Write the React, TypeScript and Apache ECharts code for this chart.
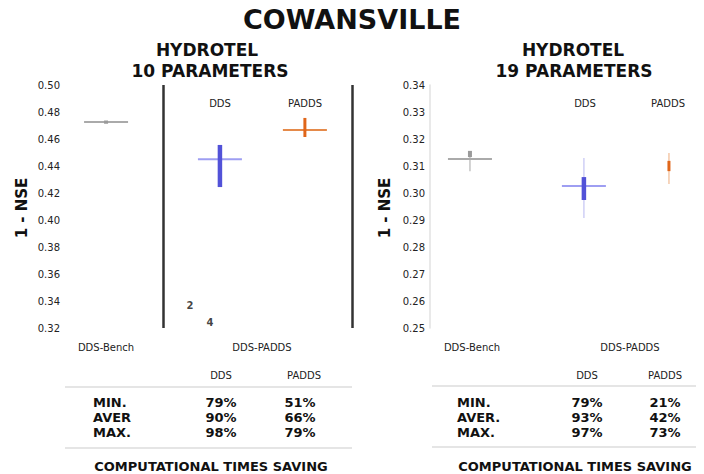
import React, { useEffect, useRef } from "react";
import * as echarts from "echarts";

// ---------- data ----------
const methods = ["DDS-Bench", "DDS", "PADDS"];
const categoryLabels = ["DDS-Bench", "DDS-PADDS"];

// Left panel: HYDROTEL 10 parameters (1 - NSE)
const p10Center = [0.4726, 0.445, 0.4667];
const p10BoxLow = [0.4713, 0.4244, 0.4615];
const p10BoxHigh = [0.4737, 0.4556, 0.4756];
const p10WhiskLow: (number | null)[] = [null, null, null];
const p10WhiskHigh: (number | null)[] = [null, null, null];
const p10Ticks = [0.32, 0.34, 0.36, 0.38, 0.4, 0.42, 0.44, 0.46, 0.48, 0.5];
const p10OutlierValues = [0.337, 0.3244];
const p10OutlierLabels = ["2", "4"];

// Right panel: HYDROTEL 19 parameters (1 - NSE)
const p19Center: (number | null)[] = [0.3126, 0.3026, null];
const p19BoxLow = [0.3133, 0.2974, 0.3081];
const p19BoxHigh = [0.3156, 0.3059, 0.3119];
const p19WhiskLow = [0.3081, 0.2907, 0.3033];
const p19WhiskHigh = [0.3156, 0.313, 0.3148];
const p19Ticks = [0.25, 0.26, 0.27, 0.28, 0.29, 0.3, 0.31, 0.32, 0.33, 0.34];

// Computational time saving tables
const rowLabels10 = ["MIN.", "AVER", "MAX."];
const rowLabels19 = ["MIN.", "AVER.", "MAX."];
const saving10DDS = ["79%", "90%", "98%"];
const saving10PADDS = ["51%", "66%", "79%"];
const saving19DDS = ["79%", "93%", "97%"];
const saving19PADDS = ["21%", "42%", "73%"];

// ---------- layout / style ----------
const X10 = [1.49, 5.43, 8.37];
const X19 = [1.48, 5.7, 8.85];
const OUTLIER_X = [4.39, 5.09];
const SEPARATOR_X = [3.46, 10];
const FONT = "DejaVu Sans";

const STYLES = [
  { hLine: "#aaaaaa", box: "#9a9a9a", whisk: "#c4c4c4", boxW: 4 },
  { hLine: "#9e9ef2", box: "#5252d8", whisk: "#cfcff6", boxW: 4.5 },
  { hLine: "#e58a4a", box: "#e0661a", whisk: "#f4c8a8", boxW: 3 },
];

function makeRender(
  xs: number[],
  center: (number | null)[],
  boxLow: number[],
  boxHigh: number[],
  wLow: (number | null)[],
  wHigh: (number | null)[]
) {
  return (params: any, api: any) => {
    const i = params.dataIndex;
    const st = STYLES[i];
    const x = xs[i];
    const children: any[] = [];
    const wl = wLow[i];
    const wh = wHigh[i];
    if (wl != null && wh != null) {
      const a = api.coord([x, wl]);
      const b = api.coord([x, wh]);
      children.push({
        type: "line",
        shape: { x1: a[0], y1: a[1], x2: b[0], y2: b[1] },
        style: { stroke: st.whisk, lineWidth: 1.5 },
      });
    }
    const c = center[i];
    if (c != null) {
      const p = api.coord([x, c]);
      children.push({
        type: "line",
        shape: { x1: p[0] - 22, y1: p[1], x2: p[0] + 22, y2: p[1] },
        style: { stroke: st.hLine, lineWidth: 2 },
      });
    }
    const a = api.coord([x, boxLow[i]]);
    const b = api.coord([x, boxHigh[i]]);
    children.push({
      type: "line",
      shape: { x1: a[0], y1: a[1], x2: b[0], y2: b[1] },
      style: { stroke: st.box, lineWidth: st.boxW },
    });
    return { type: "group", children };
  };
}

function txt(text: string, x: number, y: number, size: number, bold = true, align = "center", color = "#111") {
  return {
    type: "text",
    x,
    y,
    style: {
      text,
      fontFamily: FONT,
      fontSize: size,
      fontWeight: bold ? "bold" : "normal",
      fill: color,
      align,
      verticalAlign: "middle",
    },
  };
}

function hline(x1: number, x2: number, y: number) {
  return {
    type: "line",
    shape: { x1, y1: y, x2, y2: y },
    style: { stroke: "#dddddd", lineWidth: 1.5 },
  };
}

export default function App() {
  const ref = useRef<HTMLDivElement>(null);
  useEffect(() => {
    document.body.style.margin = "0";
    if (!ref.current) return;
    const chart = echarts.init(ref.current, null, { renderer: "svg" });

    const yLabel = {
      fontFamily: FONT,
      fontSize: 10,
      color: "#222",
      formatter: (v: number) => v.toFixed(2),
    };

    const graphics: any[] = [
      txt("COWANSVILLE", 352, 19, 27),
      txt("HYDROTEL", 207, 50, 17),
      txt("10 PARAMETERS", 210, 71, 17),
      txt("HYDROTEL", 573, 50, 17),
      txt("19 PARAMETERS", 574, 71, 17),
      txt(methods[1], 220, 103, 10, false, "center", "#222"),
      txt(methods[2], 305, 103, 10, false, "center", "#222"),
      txt(methods[1], 585, 103, 10, false, "center", "#222"),
      txt(methods[2], 668, 103, 10, false, "center", "#222"),
      txt(categoryLabels[0], 106, 347, 10, false, "center", "#222"),
      txt(categoryLabels[1], 262, 347, 10, false, "center", "#222"),
      txt(categoryLabels[0], 472, 347, 10, false, "center", "#222"),
      txt(categoryLabels[1], 630, 347, 10, false, "center", "#222"),
      {
        type: "text",
        x: 22,
        y: 208,
        rotation: Math.PI / 2,
        style: { text: "1 - NSE", fontFamily: FONT, fontSize: 15, fontWeight: "bold", fill: "#111", align: "center", verticalAlign: "middle" },
      },
      {
        type: "text",
        x: 385,
        y: 208,
        rotation: Math.PI / 2,
        style: { text: "1 - NSE", fontFamily: FONT, fontSize: 15, fontWeight: "bold", fill: "#111", align: "center", verticalAlign: "middle" },
      },
      // left table
      txt(methods[1], 221, 375, 10, false, "center", "#222"),
      txt(methods[2], 304, 375, 10, false, "center", "#222"),
      hline(65, 352, 387),
      hline(65, 352, 448),
      txt("COMPUTATIONAL TIMES SAVING", 211, 466, 13),
      // right table
      txt(methods[1], 587, 375, 10, false, "center", "#222"),
      txt(methods[2], 665, 375, 10, false, "center", "#222"),
      hline(432, 696, 386),
      hline(432, 696, 447),
      txt("COMPUTATIONAL TIMES SAVING", 575, 466, 13),
    ];
    const rowY = [402, 417, 432];
    rowLabels10.forEach((r, i) => {
      graphics.push(txt(r, 93, rowY[i], 13, true, "left"));
      graphics.push(txt(saving10DDS[i], 221, rowY[i], 13));
      graphics.push(txt(saving10PADDS[i], 300, rowY[i], 13));
    });
    rowLabels19.forEach((r, i) => {
      graphics.push(txt(r, 457, rowY[i], 13, true, "left"));
      graphics.push(txt(saving19DDS[i], 587, rowY[i], 13));
      graphics.push(txt(saving19PADDS[i], 665, rowY[i], 13));
    });

    const option: any = {
      animation: false,
      backgroundColor: "#ffffff",
      grid: [
        { left: 63, top: 85, width: 289, height: 243 },
        { left: 430, top: 85, width: 270, height: 243 },
      ],
      xAxis: [
        { type: "value", gridIndex: 0, min: 0, max: 10, show: false },
        { type: "value", gridIndex: 1, min: 0, max: 10, show: false },
      ],
      yAxis: [
        {
          type: "value",
          gridIndex: 0,
          min: p10Ticks[0],
          max: p10Ticks[p10Ticks.length - 1],
          interval: 0.02,
          axisLine: { show: false },
          axisTick: { show: false },
          splitLine: { show: false },
          axisLabel: { ...yLabel, margin: 3 },
        },
        {
          type: "value",
          gridIndex: 1,
          min: p19Ticks[0],
          max: p19Ticks[p19Ticks.length - 1],
          interval: 0.01,
          axisLine: { show: true, lineStyle: { color: "#e2e2e2", width: 1.5 } },
          axisTick: { show: false },
          splitLine: { show: false },
          axisLabel: { ...yLabel, margin: 5 },
        },
      ],
      series: [
        {
          type: "custom",
          xAxisIndex: 0,
          yAxisIndex: 0,
          data: methods.map((m, i) => [X10[i], p10Center[i]]),
          renderItem: makeRender(X10, p10Center, p10BoxLow, p10BoxHigh, p10WhiskLow, p10WhiskHigh),
          markLine: {
            silent: true,
            symbol: "none",
            label: { show: false },
            lineStyle: { color: "#333333", width: 2.5, type: "solid" },
            data: SEPARATOR_X.map((x) => ({ xAxis: x })),
          },
        },
        {
          type: "scatter",
          xAxisIndex: 0,
          yAxisIndex: 0,
          symbolSize: 1,
          itemStyle: { color: "transparent" },
          data: p10OutlierValues.map((v, i) => [OUTLIER_X[i], v]),
          label: {
            show: true,
            position: "inside",
            fontFamily: FONT,
            fontSize: 10,
            fontWeight: "bold",
            color: "#111",
            formatter: (p: any) => p10OutlierLabels[p.dataIndex],
          },
        },
        {
          type: "custom",
          xAxisIndex: 1,
          yAxisIndex: 1,
          data: methods.map((m, i) => [X19[i], p19BoxLow[i]]),
          renderItem: makeRender(X19, p19Center, p19BoxLow, p19BoxHigh, p19WhiskLow, p19WhiskHigh),
        },
      ],
      graphic: graphics,
    };
    chart.setOption(option);
    return () => chart.dispose();
  }, []);
  return <div ref={ref} style={{ width: 704, height: 474 }} />;
}
